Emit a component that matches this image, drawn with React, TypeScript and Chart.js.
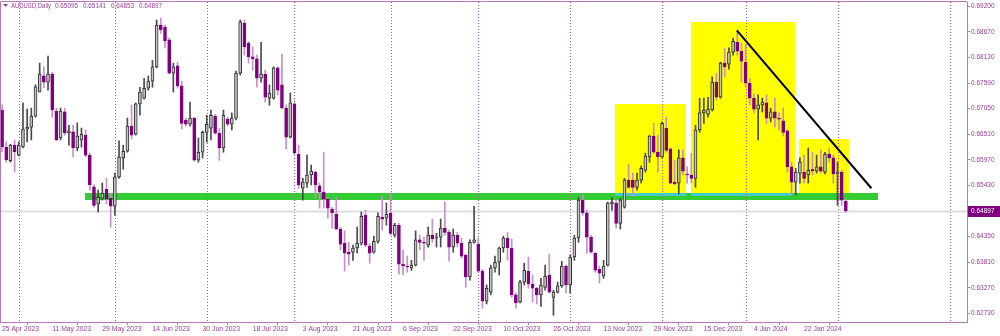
import React, { useEffect, useRef } from "react";
import { Chart, registerables } from "chart.js";

Chart.register(...registerables);

// ---------- DATA ----------
const opens = [
  0.6702, 0.6624, 0.6595, 0.6628, 0.6607, 0.6624, 0.6662, 0.6666, 0.6689, 0.6740,
  0.6774, 0.6761, 0.6778, 0.6700, 0.6643, 0.6698, 0.6654, 0.6656, 0.6622, 0.6639,
  0.6649, 0.6607, 0.6540, 0.6504, 0.6516, 0.6535, 0.6516, 0.6499, 0.6561, 0.6601,
  0.6615, 0.6668, 0.6651, 0.6715, 0.6727, 0.6748, 0.6763, 0.6793, 0.6881, 0.6877,
  0.6850, 0.6780, 0.6795, 0.6753, 0.6681, 0.6672, 0.6685, 0.6596, 0.6613, 0.6655,
  0.6664, 0.6689, 0.6653, 0.6622, 0.6683, 0.6672, 0.6685, 0.6780, 0.6885, 0.6843,
  0.6814, 0.6810, 0.6769, 0.6778, 0.6727, 0.6727, 0.6791, 0.6755, 0.6706, 0.6645,
  0.6715, 0.6609, 0.6537, 0.6548, 0.6565, 0.6571, 0.6542, 0.6529, 0.6514, 0.6493,
  0.6482, 0.6451, 0.6421, 0.6402, 0.6402, 0.6411, 0.6421, 0.6480, 0.6415, 0.6402,
  0.6425, 0.6476, 0.6474, 0.6484, 0.6438, 0.6459, 0.6377, 0.6373, 0.6369, 0.6375,
  0.6428, 0.6423, 0.6417, 0.6438, 0.6432, 0.6434, 0.6453, 0.6444, 0.6413, 0.6438,
  0.6421, 0.6396, 0.6350, 0.6423, 0.6419, 0.6362, 0.6299, 0.6318, 0.6369, 0.6381,
  0.6411, 0.6432, 0.6411, 0.6312, 0.6297, 0.6339, 0.6362, 0.6335, 0.6326, 0.6312,
  0.6328, 0.6354, 0.6307, 0.6318, 0.6331, 0.6373, 0.6333, 0.6392, 0.6432, 0.6512,
  0.6485, 0.6434, 0.6400, 0.6366, 0.6352, 0.6375, 0.6504, 0.6506, 0.6463, 0.6497,
  0.6554, 0.6554, 0.6539, 0.6554, 0.6575, 0.6603, 0.6647, 0.6613, 0.6603, 0.6664,
  0.6620, 0.6550, 0.6548, 0.6601, 0.6567, 0.6565, 0.6558, 0.6660, 0.6696, 0.6693,
  0.6702, 0.6761, 0.6729, 0.6801, 0.6799, 0.6824, 0.6845, 0.6826, 0.6803, 0.6759,
  0.6727, 0.6704, 0.6713, 0.6717, 0.6685, 0.6698, 0.6685, 0.6679, 0.6658, 0.6582,
  0.6550, 0.6569, 0.6571, 0.6565, 0.6577, 0.6573, 0.6582, 0.6571, 0.6609, 0.6601,
  0.6567, 0.6571, 0.65095,
];

const highs = [
  0.6713, 0.6635, 0.6630, 0.6639, 0.6635, 0.6717, 0.6704, 0.6706, 0.6755, 0.6801,
  0.6793, 0.6816, 0.6782, 0.6706, 0.6706, 0.6706, 0.6670, 0.6670, 0.6675, 0.6664,
  0.6660, 0.6611, 0.6544, 0.6533, 0.6548, 0.6558, 0.6527, 0.6569, 0.6637, 0.6628,
  0.6685, 0.6713, 0.6717, 0.6750, 0.6769, 0.6774, 0.6807, 0.6892, 0.6896, 0.6881,
  0.6854, 0.6801, 0.6803, 0.6763, 0.6685, 0.6719, 0.6687, 0.6643, 0.6658, 0.6691,
  0.6702, 0.6693, 0.6664, 0.6702, 0.6687, 0.6696, 0.6784, 0.6892, 0.6892, 0.6847,
  0.6835, 0.6818, 0.6845, 0.6786, 0.6755, 0.6793, 0.6793, 0.6820, 0.6713, 0.6738,
  0.6723, 0.6628, 0.6558, 0.6607, 0.6586, 0.6573, 0.6548, 0.6613, 0.6518, 0.6497,
  0.6518, 0.6455, 0.6447, 0.6423, 0.6417, 0.6455, 0.6487, 0.6491, 0.6421, 0.6436,
  0.6485, 0.6520, 0.6506, 0.6527, 0.6463, 0.6463, 0.6407, 0.6394, 0.6385, 0.6447,
  0.6438, 0.6434, 0.6455, 0.6472, 0.6442, 0.6472, 0.6508, 0.6449, 0.6451, 0.6444,
  0.6432, 0.6398, 0.6428, 0.6499, 0.6432, 0.6366, 0.6333, 0.6375, 0.6394, 0.6413,
  0.6436, 0.6444, 0.6430, 0.6316, 0.6343, 0.6379, 0.6392, 0.6354, 0.6328, 0.6347,
  0.6375, 0.6398, 0.6322, 0.6339, 0.6383, 0.6375, 0.6396, 0.6438, 0.6518, 0.6523,
  0.6491, 0.6438, 0.6402, 0.6373, 0.6385, 0.6508, 0.6518, 0.6512, 0.6516, 0.6558,
  0.6588, 0.6569, 0.6569, 0.6584, 0.6611, 0.6649, 0.6674, 0.6649, 0.6677, 0.6687,
  0.6622, 0.6596, 0.6618, 0.6618, 0.6582, 0.6611, 0.6670, 0.6727, 0.6727, 0.6729,
  0.6772, 0.6780, 0.6803, 0.6833, 0.6833, 0.6854, 0.6866, 0.6843, 0.6839, 0.6769,
  0.6736, 0.6734, 0.6727, 0.6734, 0.6706, 0.6727, 0.6696, 0.6706, 0.6660, 0.6592,
  0.6579, 0.6601, 0.6607, 0.6622, 0.6613, 0.6607, 0.6618, 0.6613, 0.6622, 0.6607,
  0.6592, 0.6575, 0.65141,
];

const lows = [
  0.6614, 0.6592, 0.6592, 0.6571, 0.6605, 0.6622, 0.6635, 0.6639, 0.6687, 0.6740,
  0.6749, 0.6744, 0.6687, 0.6637, 0.6639, 0.6649, 0.6628, 0.6603, 0.6616, 0.6624,
  0.6603, 0.6533, 0.6497, 0.6487, 0.6512, 0.6504, 0.6455, 0.6480, 0.6558, 0.6577,
  0.6613, 0.6641, 0.6649, 0.6691, 0.6725, 0.6744, 0.6750, 0.6791, 0.6864, 0.6833,
  0.6778, 0.6740, 0.6748, 0.6662, 0.6668, 0.6668, 0.6594, 0.6592, 0.6601, 0.6634,
  0.6639, 0.6651, 0.6596, 0.6613, 0.6668, 0.6660, 0.6681, 0.6776, 0.6818, 0.6801,
  0.6786, 0.6750, 0.6761, 0.6719, 0.6712, 0.6725, 0.6734, 0.6706, 0.6620, 0.6643,
  0.6609, 0.6537, 0.6512, 0.6539, 0.6544, 0.6516, 0.6495, 0.6495, 0.6474, 0.6453,
  0.6449, 0.6407, 0.6362, 0.6375, 0.6385, 0.6400, 0.6417, 0.6413, 0.6379, 0.6400,
  0.6421, 0.6449, 0.6459, 0.6438, 0.6434, 0.6356, 0.6354, 0.6360, 0.6364, 0.6373,
  0.6407, 0.6385, 0.6413, 0.6423, 0.6413, 0.6413, 0.6438, 0.6383, 0.6402, 0.6413,
  0.6390, 0.6328, 0.6343, 0.6421, 0.6360, 0.6284, 0.6293, 0.6312, 0.6360, 0.6354,
  0.6402, 0.6385, 0.6307, 0.6284, 0.6295, 0.6333, 0.6326, 0.6297, 0.6293, 0.6288,
  0.6322, 0.6316, 0.6269, 0.6316, 0.6328, 0.6316, 0.6316, 0.6385, 0.6423, 0.6480,
  0.6400, 0.6400, 0.6360, 0.6337, 0.6347, 0.6373, 0.6491, 0.6453, 0.6451, 0.6495,
  0.6537, 0.6520, 0.6533, 0.6548, 0.6571, 0.6592, 0.6611, 0.6571, 0.6601, 0.6613,
  0.6546, 0.6544, 0.6525, 0.6565, 0.6548, 0.6548, 0.6539, 0.6655, 0.6674, 0.6687,
  0.6700, 0.6723, 0.6727, 0.6772, 0.6788, 0.6818, 0.6818, 0.6761, 0.6750, 0.6713,
  0.6696, 0.6639, 0.6698, 0.6674, 0.6677, 0.6666, 0.6660, 0.6647, 0.6571, 0.6523,
  0.6523, 0.6548, 0.6548, 0.6548, 0.6565, 0.6569, 0.6569, 0.6567, 0.6592, 0.6548,
  0.6501, 0.6501, 0.64853,
];

const closes = [
  0.6624, 0.6597, 0.6628, 0.6614, 0.6628, 0.6662, 0.6666, 0.6689, 0.6751, 0.6778,
  0.6761, 0.6778, 0.6702, 0.6639, 0.6700, 0.6654, 0.6658, 0.6622, 0.6647, 0.6651,
  0.6607, 0.6544, 0.6501, 0.6518, 0.6527, 0.6514, 0.6499, 0.6561, 0.6603, 0.6615,
  0.6668, 0.6649, 0.6715, 0.6740, 0.6748, 0.6763, 0.6793, 0.6881, 0.6871, 0.6848,
  0.6780, 0.6793, 0.6753, 0.6674, 0.6672, 0.6685, 0.6596, 0.6613, 0.6655, 0.6672,
  0.6691, 0.6653, 0.6622, 0.6691, 0.6672, 0.6685, 0.6780, 0.6888, 0.6835, 0.6814,
  0.6810, 0.6769, 0.6778, 0.6729, 0.6738, 0.6791, 0.6744, 0.6706, 0.6645, 0.6717,
  0.6611, 0.6544, 0.6550, 0.6565, 0.6573, 0.6544, 0.6529, 0.6514, 0.6495, 0.6485,
  0.6451, 0.6419, 0.6400, 0.6398, 0.6411, 0.6421, 0.6478, 0.6417, 0.6400, 0.6425,
  0.6478, 0.6472, 0.6482, 0.6442, 0.6459, 0.6377, 0.6373, 0.6371, 0.6375, 0.6428,
  0.6423, 0.6421, 0.6438, 0.6430, 0.6434, 0.6453, 0.6444, 0.6413, 0.6438, 0.6421,
  0.6394, 0.6350, 0.6423, 0.6428, 0.6362, 0.6299, 0.6326, 0.6369, 0.6381, 0.6411,
  0.6432, 0.6411, 0.6312, 0.6295, 0.6339, 0.6364, 0.6335, 0.6326, 0.6312, 0.6333,
  0.6352, 0.6318, 0.6318, 0.6331, 0.6373, 0.6333, 0.6392, 0.6432, 0.6512, 0.6485,
  0.6434, 0.6402, 0.6364, 0.6358, 0.6373, 0.6506, 0.6508, 0.6463, 0.6512, 0.6554,
  0.6539, 0.6539, 0.6554, 0.6579, 0.6605, 0.6647, 0.6613, 0.6603, 0.6674, 0.6617,
  0.6548, 0.6546, 0.6601, 0.6573, 0.6565, 0.6558, 0.6660, 0.6696, 0.6702, 0.6704,
  0.6761, 0.6729, 0.6801, 0.6793, 0.6824, 0.6847, 0.6826, 0.6805, 0.6759, 0.6727,
  0.6704, 0.6713, 0.6719, 0.6685, 0.6698, 0.6685, 0.6683, 0.6655, 0.6582, 0.6550,
  0.6571, 0.6592, 0.6558, 0.6575, 0.6573, 0.6582, 0.6573, 0.6609, 0.6601, 0.6567,
  0.6571, 0.6512, 0.64897,
];

const xTickLabels = [
  "25 Apr 2023", "11 May 2023", "29 May 2023", "14 Jun 2023", "30 Jun 2023",
  "18 Jul 2023", "3 Aug 2023", "21 Aug 2023", "6 Sep 2023", "22 Sep 2023",
  "10 Oct 2023", "26 Oct 2023", "13 Nov 2023", "29 Nov 2023", "15 Dec 2023",
  "4 Jan 2024", "22 Jan 2024",
];
const xTickStep = 12; // one date label every 12 bars
const monthSeparators = [4, 27, 49, 70, 93, 114, 136, 158, 178, 200, 227];
const priceTicks = [
  0.692, 0.6867, 0.6813, 0.6759, 0.6705, 0.6651, 0.6597, 0.6543,
  0.6435, 0.6381, 0.6327, 0.6273,
];
const symbolTitle = "AUDUSD,Daily";
const headerValues = ["0.65095", "0.65141", "0.64853", "0.64897"];

// drawn objects (bar index / price)
const yellowX0 = [146.8, 164.9, 190.9];
const yellowX1 = [163.8, 189.9, 202.9];
const yellowTop = [0.6715, 0.6888, 0.6641];
const yellowBottom = [0.6528, 0.6528, 0.6528];
const supportX = [19.9, 209.8];
const supportPrice = [0.6528, 0.6514];
const cyanX0 = [146.8, 164.9];
const cyanX1 = [163.8, 188.9];
const cyanPrice = [0.6528, 0.6521];
const trendX = [175.9, 208.1];
const trendPrice = [0.6870, 0.6537];

// ---------- STYLE ----------
const FONT = "'Liberation Sans', Arial, sans-serif";
const TEXT = "#9a3d9a";
const FRAME = "#b878b8";
const SEP = "#c048c0";
const BEAR = "#800080";
const BEAR_WICK = "#c98ec9";
const BULL_FILL = "#c4c4c4";
const BULL_EDGE = "#303030";
const BULL_WICK = "#4a4a4a";

const Y_MIN = 0.62549;
const Y_MAX = 0.69299;
const X_MIN = -0.5;
const X_MAX = 231;

const idx = opens.map((_, i) => i);
const isBull = opens.map((o, i) => closes[i] >= o);

const overlayPlugin = {
  id: "overlays",
  beforeDatasetsDraw(chart: any) {
    const { ctx, chartArea, scales } = chart;
    const { left, right, top, bottom } = chartArea;
    const x = scales.x;
    const y = scales.y;
    ctx.save();
    ctx.beginPath();
    ctx.rect(left, top, right - left, bottom - top);
    ctx.clip();
    // yellow boxes
    ctx.fillStyle = "#ffff00";
    for (let i = 0; i < yellowX0.length; i++) {
      const x0 = x.getPixelForValue(yellowX0[i]);
      const x1 = x.getPixelForValue(yellowX1[i]);
      const y0 = y.getPixelForValue(yellowTop[i]);
      const y1 = y.getPixelForValue(yellowBottom[i]);
      ctx.fillRect(Math.round(x0), Math.round(y0), Math.round(x1 - x0), Math.round(y1 - y0));
    }
    // support band
    {
      const x0 = x.getPixelForValue(supportX[0]);
      const x1 = x.getPixelForValue(supportX[1]);
      const y0 = y.getPixelForValue(supportPrice[0]);
      const y1 = y.getPixelForValue(supportPrice[1]);
      ctx.fillStyle = "#33cc33";
      ctx.fillRect(Math.round(x0), Math.round(y0), Math.round(x1 - x0), Math.round(y1 - y0));
    }
    // cyan strips
    ctx.fillStyle = "#3fcccc";
    for (let i = 0; i < cyanX0.length; i++) {
      const x0 = x.getPixelForValue(cyanX0[i]);
      const x1 = x.getPixelForValue(cyanX1[i]);
      const y0 = y.getPixelForValue(cyanPrice[0]);
      const y1 = y.getPixelForValue(cyanPrice[1]);
      ctx.fillRect(Math.round(x0), Math.round(y0), Math.round(x1 - x0), Math.round(y1 - y0));
    }
    // month separators
    ctx.strokeStyle = SEP;
    ctx.lineWidth = 1;
    ctx.setLineDash([1, 2]);
    for (const s of monthSeparators) {
      const px = Math.round(x.getPixelForValue(s)) + 0.5;
      ctx.beginPath();
      ctx.moveTo(px, top);
      ctx.lineTo(px, bottom);
      ctx.stroke();
    }
    ctx.setLineDash([]);
    // bid line
    const by = Math.round(y.getPixelForValue(closes[closes.length - 1]));
    ctx.fillStyle = "#dedede";
    ctx.fillRect(left, by - 0.5, right - left, 2);
    ctx.restore();
  },
  afterDatasetsDraw(chart: any) {
    const { ctx, scales } = chart;
    const x = scales.x;
    const y = scales.y;
    ctx.save();
    ctx.strokeStyle = "#000000";
    ctx.lineWidth = 2;
    ctx.beginPath();
    ctx.moveTo(x.getPixelForValue(trendX[0]), y.getPixelForValue(trendPrice[0]));
    ctx.lineTo(x.getPixelForValue(trendX[1]), y.getPixelForValue(trendPrice[1]));
    ctx.stroke();
    ctx.restore();
  },
  afterDraw(chart: any) {
    const { ctx, chartArea, scales } = chart;
    const { left, right, top, bottom } = chartArea;
    const y = scales.y;
    ctx.save();
    // frame (left + top)
    ctx.strokeStyle = FRAME;
    ctx.lineWidth = 1;
    ctx.beginPath();
    ctx.moveTo(left + 0.5, bottom);
    ctx.lineTo(left + 0.5, top - 0.5);
    ctx.lineTo(right, top - 0.5);
    ctx.stroke();
    // header
    ctx.fillStyle = TEXT;
    ctx.beginPath();
    ctx.moveTo(3, 4);
    ctx.lineTo(8, 4);
    ctx.lineTo(5.5, 7);
    ctx.closePath();
    ctx.fill();
    ctx.font = `7px ${FONT}`;
    ctx.textBaseline = "middle";
    ctx.textAlign = "left";
    ctx.fillText(symbolTitle, 11, 6, 40);
    headerValues.forEach((v, i) => ctx.fillText(v, 55 + i * 28, 6, 23));
    // last price label
    const last = closes[closes.length - 1];
    const py = y.getPixelForValue(last);
    ctx.fillStyle = BEAR;
    ctx.fillRect(right + 1, Math.round(py) - 5, 33, 11);
    ctx.fillStyle = "#ffffff";
    ctx.font = `6.5px ${FONT}`;
    ctx.fillText(last.toFixed(5), right + 4, Math.round(py) + 0.5);
    ctx.restore();
  },
};

export default function App() {
  const ref = useRef<HTMLCanvasElement>(null);
  useEffect(() => {
    const canvas = ref.current;
    if (!canvas) return;
    const chart = new Chart(canvas, {
      type: "bar",
      data: {
        datasets: [
          {
            label: "bodies",
            data: idx.map((i) => ({ x: i, y: [opens[i], closes[i]] })) as any,
            backgroundColor: isBull.map((b) => (b ? BULL_FILL : BEAR)),
            borderColor: isBull.map((b) => (b ? BULL_EDGE : BEAR)),
            borderWidth: 1,
            borderSkipped: false,
            barThickness: 3,
            minBarLength: 1,
            grouped: false,
            order: 0,
          } as any,
          {
            label: "wicks",
            data: idx.map((i) => ({ x: i, y: [lows[i], highs[i]] })) as any,
            backgroundColor: isBull.map((b) => (b ? BULL_WICK : BEAR_WICK)),
            borderWidth: 0,
            barThickness: 1,
            grouped: false,
            order: 1,
          } as any,
        ],
      },
      options: {
        animation: false,
        responsive: false,
        maintainAspectRatio: false,
        layout: { padding: { top: 2, left: 0, right: 0, bottom: 0 } },
        plugins: { legend: { display: false }, tooltip: { enabled: false } },
        scales: {
          x: {
            type: "linear",
            min: X_MIN,
            max: X_MAX,
            offset: false,
            grid: {
              display: true,
              drawOnChartArea: false,
              drawTicks: true,
              tickLength: 3,
              color: FRAME,
            },
            border: { display: true, color: FRAME },
            ticks: {
              align: "start",
              autoSkip: false,
              maxRotation: 0,
              minRotation: 0,
              padding: 0,
              color: TEXT,
              font: { family: FONT, size: 6.8 },
              callback: (v: any) => xTickLabels[Math.round(Number(v) / xTickStep)] ?? "",
            },
            afterBuildTicks: (s: any) => {
              s.ticks = xTickLabels.map((_, k) => ({ value: k * xTickStep }));
            },
            afterFit: (s: any) => {
              s.height = 14;
              s.paddingLeft = 0;
              s.paddingRight = 0;
            },
          } as any,
          y: {
            type: "linear",
            position: "right",
            min: Y_MIN,
            max: Y_MAX,
            grid: {
              display: true,
              drawOnChartArea: false,
              drawTicks: true,
              tickLength: 3,
              color: FRAME,
            },
            border: { display: true, color: FRAME },
            ticks: {
              padding: 1,
              color: TEXT,
              font: { family: FONT, size: 6.5 },
              callback: (v: any) => Number(v).toFixed(5),
            },
            afterBuildTicks: (s: any) => {
              s.ticks = priceTicks.map((v) => ({ value: v }));
            },
            afterFit: (s: any) => {
              s.width = 33;
              s.paddingTop = 0;
              s.paddingBottom = 0;
            },
          } as any,
        },
      },
      plugins: [overlayPlugin],
    });
    return () => chart.destroy();
  }, []);

  return (
    <div
      style={{
        position: "absolute",
        left: 0,
        top: 0,
        width: 1000,
        height: 336,
        background: "#ffffff",
      }}
    >
      <canvas ref={ref} width={1000} height={336} style={{ display: "block", width: 1000, height: 336 }} />
    </div>
  );
}
